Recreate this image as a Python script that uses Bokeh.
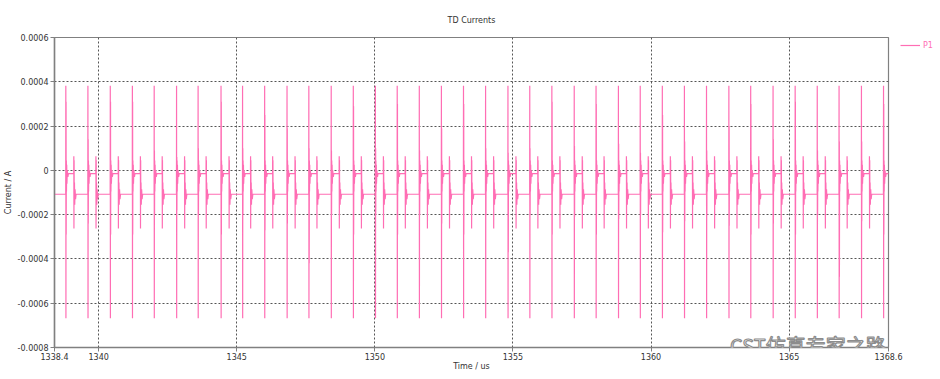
from bokeh.plotting import figure
from bokeh.models import FixedTicker, Legend, LegendItem, Label, Range1d
from bokeh.embed import file_html
from bokeh.resources import INLINE

# ---------------- data ----------------
title_text = "TD Currents"
x_label = "Time / us"
y_label = "Current / A"
series_name = "P1"
watermark = "CST仿真专家之路"

x_start, x_end = 1338.4, 1368.6
y_start, y_end = -0.0008, 0.0006

x_ticks = [1338.4, 1340, 1345, 1350, 1355, 1360, 1365, 1368.6]
x_tick_labels = ["1338.4", "1340", "1345", "1350", "1355", "1360", "1365", "1368.6"]
x_grid = [1340, 1345, 1350, 1355, 1360, 1365]
y_ticks = [-0.0008, -0.0006, -0.0004, -0.0002, 0, 0.0002, 0.0004, 0.0006]
y_tick_labels = ["-0.0008", "-0.0006", "-0.0004", "-0.0002", "0", "0.0002", "0.0004", "0.0006"]
y_grid = [-0.0006, -0.0004, -0.0002, 0, 0.0002, 0.0004]

# times of the large current pulses (us)
spike_times = [1338.81, 1339.61, 1340.42, 1341.22, 1342.01, 1342.82, 1343.60, 1344.43,
               1345.21, 1346.01, 1346.82, 1347.61, 1348.42, 1349.22, 1350.02, 1350.81,
               1351.61, 1352.41, 1353.21, 1354.01, 1354.82, 1355.61, 1356.41, 1357.22,
               1358.01, 1358.82, 1359.61, 1360.41, 1361.21, 1362.01, 1362.82, 1363.61,
               1364.42, 1365.22, 1366.02, 1366.81, 1367.62, 1368.42]

# second (ringing) excursion right after each large pulse (A)
ring_hi = [0.00031, 0.00014, 0.00031, 0.00031, 0.00009, 0.00006, 0.00010, 0.00031,
           0.00010, 0.00025, 0.00019, 0.00010, 0.00009, 0.00029, 0.00010, 0.00030,
           0.00009, 0.00019, 0.00030, 0.00010, 0.00008, 0.00010, 0.00031, 0.00011,
           0.00030, 0.00012, 0.00008, 0.00025, 0.00013, 0.00009, 0.00020, 0.00030,
           0.00014, 0.00031, 0.00009, 0.00013, 0.00013, 0.00030]
ring_lo = [-0.00029, -0.00024, -0.00029, -0.00029, -0.00020, -0.00018, -0.00020, -0.00029,
           -0.00020, -0.00027, -0.00024, -0.00042, -0.00020, -0.00029, -0.00020, -0.00029,
           -0.00020, -0.00024, -0.00029, -0.00020, -0.00037, -0.00020, -0.00029, -0.00021,
           -0.00029, -0.00022, -0.00020, -0.00028, -0.00023, -0.00020, -0.00025, -0.00029,
           -0.00024, -0.00029, -0.00020, -0.00048, -0.00023, -0.00029]

# shape of one period, offsets (us) from the large pulse and current (A)
base_low = -0.000108
main_offsets = [-0.004, 0.0, 0.004]
main_values = [-0.000108, 0.000382, -0.000668]
ring_offsets = [0.009, 0.013]
tail_offsets = [0.019, 0.024, 0.032, 0.040, 0.055, 0.075, 0.095,
                0.286, 0.290, 0.294, 0.300, 0.305, 0.313, 0.322, 0.335, 0.352, 0.372]
tail_values = [0.000045, -0.000095, 0.000025, -0.000060, 0.0, -0.000030, -0.000015,
               -0.000015, 0.000064, -0.000263, 0.000046, -0.000143, -0.000055, -0.000155,
               -0.000085, -0.000130, -0.000108]

# ---------------- build the trace ----------------
xs = [x_start]
ys = [base_low]
for t0, hi, lo in zip(spike_times, ring_hi, ring_lo):
    for o, v in zip(main_offsets, main_values):
        xs.append(t0 + o); ys.append(v)
    for o, v in zip(ring_offsets, [hi, lo]):
        xs.append(t0 + o); ys.append(v)
    for o, v in zip(tail_offsets, tail_values):
        xs.append(t0 + o); ys.append(v)
px, py = [], []
for a, b in zip(xs, ys):
    if a <= x_end:
        px.append(a); py.append(b)
px.append(x_end); py.append(py[-1])

pink = "#ff6eb4"
txt = "#333333"
frame_col = "#808080"
font = "DejaVu Sans"

p = figure(frame_width=834, frame_height=310, output_backend="svg", toolbar_location=None,
           x_range=Range1d(x_start, x_end), y_range=Range1d(y_start, y_end),
           min_border_left=49, min_border_right=0, min_border_top=0, min_border_bottom=0,
           title=title_text)
p.background_fill_color = "white"
p.border_fill_color = "white"
p.outline_line_color = frame_col
p.outline_line_width = 1.2

p.title.align = "center"
p.title.text_font = font
p.title.text_font_size = "8px"
p.title.text_font_style = "normal"
p.title.text_color = txt
p.title.standoff = 26

r = p.line(px, py, line_color=pink, line_width=1.2)

for ax in (p.xaxis[0], p.yaxis[0]):
    ax.axis_line_color = frame_col
    ax.axis_line_width = 1.5
    ax.major_tick_line_color = frame_col
    ax.major_tick_out = 4
    ax.major_tick_in = 0
    ax.minor_tick_line_color = None
    ax.major_label_text_font = font
    ax.major_label_text_font_size = "8px"
    ax.major_label_text_color = txt
    ax.axis_label_text_font = font
    ax.axis_label_text_font_size = "8px"
    ax.axis_label_text_font_style = "normal"
    ax.axis_label_text_color = txt
    ax.major_label_standoff = 2
    ax.axis_label_standoff = 2
p.xaxis.major_label_standoff = 1
p.xaxis.axis_label_standoff = -1

p.xaxis.ticker = FixedTicker(ticks=x_ticks)
p.xaxis.major_label_overrides = dict(zip(x_ticks, x_tick_labels))
p.yaxis.ticker = FixedTicker(ticks=y_ticks)
p.yaxis.major_label_overrides = dict(zip(y_ticks, y_tick_labels))
p.xaxis.axis_label = x_label
p.yaxis.axis_label = y_label

p.xgrid.ticker = FixedTicker(ticks=x_grid)
p.ygrid.ticker = FixedTicker(ticks=y_grid)
for g in (p.xgrid[0], p.ygrid[0]):
    g.grid_line_color = "#555555"
    g.grid_line_dash = "2 2"
    g.grid_line_width = 1

p.add_layout(Label(x=1362.86, y=-0.00079, text=watermark, text_font="Noto Sans CJK SC",
                   text_font_size="20px", text_color="white", text_outline_color="#8c8c8c",
                   text_baseline="alphabetic", text_align="left"))

legend = Legend(items=[LegendItem(label=series_name, renderers=[r])],
                location="top_left", border_line_alpha=0, background_fill_alpha=0,
                padding=0, margin=0, spacing=0, glyph_width=20, glyph_height=16,
                label_standoff=3, label_text_font=font, label_text_font_size="8px",
                label_text_color=pink,
                title="\u00a0", title_location="left", title_standoff=3,
                title_text_font_size="8px")
p.add_layout(legend, "right")

open("out.html", "w").write(file_html(p, INLINE))
